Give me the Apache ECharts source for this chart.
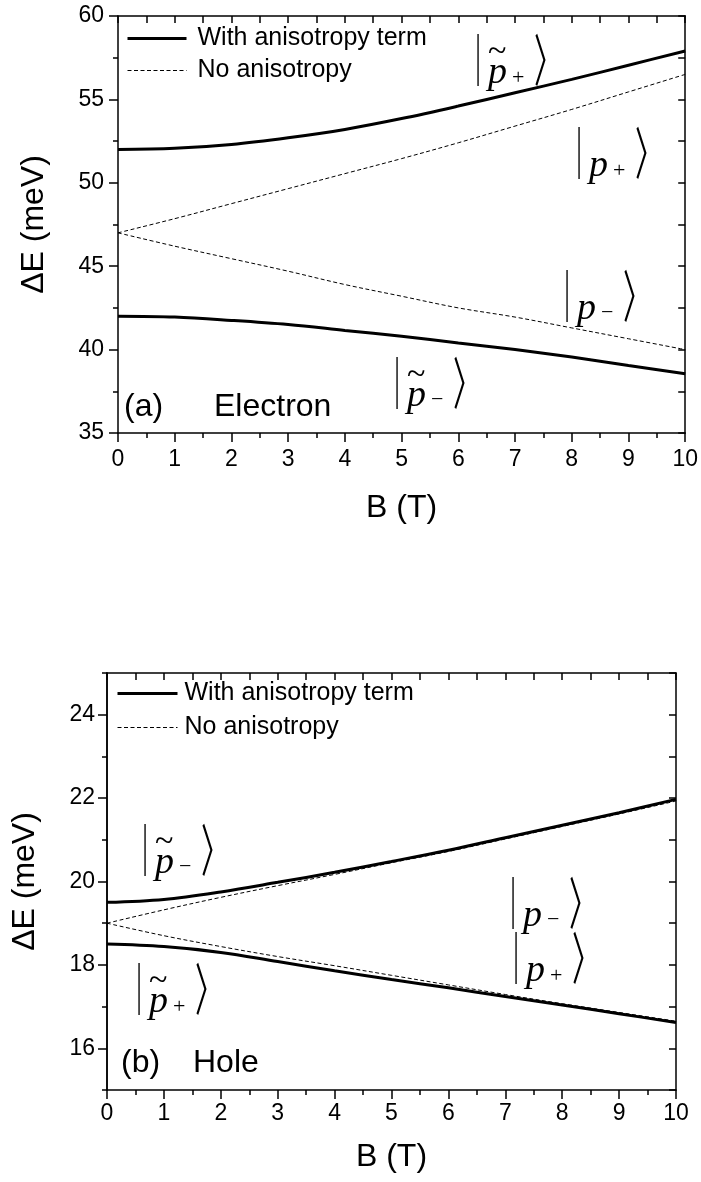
<!DOCTYPE html>
<html><head><meta charset="utf-8">
<script src="https://cdn.jsdelivr.net/npm/echarts@6/dist/echarts.min.js"></script>
<style>html,body{margin:0;padding:0;background:#fff}#c{width:701px;height:1182px}</style>
</head><body><div id="c"></div>
<script>
// ---- data ----
const B = [0, 1, 2, 3, 4, 5, 6, 7, 8, 9, 10];
const elecAnisoUpper   = [52.0, 52.07, 52.3, 52.7, 53.2, 53.85, 54.6, 55.4, 56.2, 57.05, 57.9];
const elecAnisoLower   = [42.0, 41.95, 41.75, 41.5, 41.15, 40.8, 40.4, 40.0, 39.55, 39.05, 38.55];
const elecNoAnisoUpper = [47.0, 47.85, 48.75, 49.65, 50.55, 51.45, 52.4, 53.4, 54.4, 55.45, 56.5];
const elecNoAnisoLower = [47.0, 46.2, 45.45, 44.7, 43.9, 43.2, 42.5, 41.95, 41.3, 40.65, 40.0];
const holeAnisoUpper   = [19.5, 19.57, 19.75, 19.98, 20.22, 20.48, 20.75, 21.05, 21.35, 21.65, 21.97];
const holeAnisoLower   = [18.5, 18.44, 18.3, 18.08, 17.86, 17.65, 17.45, 17.24, 17.04, 16.83, 16.62];
const holeNoAnisoUpper = [19.0, 19.32, 19.62, 19.9, 20.17, 20.45, 20.72, 21.02, 21.32, 21.62, 21.93];
const holeNoAnisoLower = [19.0, 18.7, 18.44, 18.2, 17.98, 17.75, 17.52, 17.29, 17.07, 16.86, 16.65];
const holeYTickLabels  = [16, 18, 20, 22, 24];
const seriesNames = ['With anisotropy term', 'No anisotropy'];
const panelTexts = [['(a)', 'Electron'], ['(b)', 'Hole']];

// ---- helpers ----
const SANS = "'Liberation Sans', Arial, sans-serif";
const SERIF = "'Liberation Serif', 'Times New Roman', serif";
const pts = arr => arr.map((v, i) => [B[i], v]);
const axisLine = {show: true, onZero: false, lineStyle: {color: '#000', width: 1.5}};
const TICK = 23, NAME = 32, LEG = 25;
const SOLID = {color: '#000', width: 3};
const DASHED = {color: '#000', width: 1, type: [4, 2.5]};

function line(name, arr, xi, yi, solid) {
  return {
    type: 'line', name, xAxisIndex: xi, yAxisIndex: yi, data: pts(arr),
    symbol: 'none', smooth: 0.35, silent: true, animation: false,
    lineStyle: solid ? SOLID : DASHED,
    itemStyle: {color: '#000'}
  };
}

function txt(text, x, y, size, opts) {
  opts = opts || {};
  return {
    type: 'text', x, y, silent: true, scaleX: opts.scaleX || 1,
    style: {
      text, fill: '#000', fontSize: size, fontFamily: opts.family || SANS,
      fontStyle: opts.italic ? 'italic' : 'normal',
      textAlign: opts.align || 'left', align: opts.align || 'left',
      textVerticalAlign: 'middle', verticalAlign: 'middle'
    }
  };
}

// ket |p> (bar x, bar vertical centre yc)
function ket(x, yc, tilde, sign) {
  const ch = [
    txt('|', 0, -1, 56, {family: SERIF, align: 'center', scaleX: 0.5}),
    txt('p', 10, 13, 38, {family: SERIF, italic: true}),
    txt(sign, 34, sign === '+' ? 18 : 17, 22, {family: SERIF}),
    txt('\u3009', 70, 0, 56, {family: "'Noto Sans CJK SC', sans-serif", align: 'center', scaleX: 0.5})
  ];
  if (tilde) ch.push(txt('~', 10, -8, 34, {family: SERIF}));
  return {type: 'group', x, y: yc, children: ch};
}

const chart = echarts.init(document.getElementById('c'), null, {renderer: 'canvas'});

const legendData = [
  {name: seriesNames[0], lineStyle: SOLID},
  {name: seriesNames[1], lineStyle: DASHED}
];
const legendBase = {
  data: legendData, orient: 'vertical', padding: 0, itemHeight: 12, selectedMode: false,
  itemStyle: {opacity: 0}
};

const option = {
  backgroundColor: '#fff',
  animation: false,
  grid: [
    {left: 118, top: 16, width: 568, height: 417},
    {left: 107, top: 673, width: 569, height: 417}
  ],
  legend: [
    Object.assign({}, legendBase, {left: 126, top: 26, itemWidth: 59, itemGap: 7,
      textStyle: {fontSize: LEG, fontFamily: SANS, color: '#000', padding: [0, 0, 0, 6]}}),
    Object.assign({}, legendBase, {left: 116, top: 681, itemWidth: 60, itemGap: 9,
      textStyle: {fontSize: LEG, fontFamily: SANS, color: '#000', padding: [0, 0, 0, 2]}})
  ],
  xAxis: [
    {gridIndex: 0, type: 'value', position: 'bottom', min: 0, max: 10, interval: 1,
     axisLine, splitLine: {show: false},
     axisTick: {show: true, inside: false, length: 9, lineStyle: {color: '#000', width: 1.5}},
     minorTick: {show: true, splitNumber: 2, length: 5, lineStyle: {color: '#000', width: 1.5}},
     axisLabel: {fontSize: TICK, fontFamily: SANS, color: '#000', margin: 15},
     name: 'B (T)', nameLocation: 'middle', nameGap: 59,
     nameTextStyle: {fontSize: NAME, fontFamily: SANS, color: '#000'}},
    {gridIndex: 0, type: 'value', position: 'top', min: 0, max: 10, interval: 0.5,
     axisLine, splitLine: {show: false}, axisLabel: {show: false},
     axisTick: {show: true, inside: true, length: 7, lineStyle: {color: '#000', width: 1.5}}},
    {gridIndex: 1, type: 'value', position: 'bottom', min: 0, max: 10, interval: 1,
     axisLine, splitLine: {show: false},
     axisTick: {show: true, inside: false, length: 9, lineStyle: {color: '#000', width: 1.5}},
     minorTick: {show: true, splitNumber: 2, length: 5, lineStyle: {color: '#000', width: 1.5}},
     axisLabel: {fontSize: TICK, fontFamily: SANS, color: '#000', margin: 12},
     name: 'B (T)', nameLocation: 'middle', nameGap: 51,
     nameTextStyle: {fontSize: NAME, fontFamily: SANS, color: '#000'}},
    {gridIndex: 1, type: 'value', position: 'top', min: 0, max: 10, interval: 0.5,
     axisLine, splitLine: {show: false}, axisLabel: {show: false},
     axisTick: {show: true, inside: true, length: 7, lineStyle: {color: '#000', width: 1.5}}}
  ],
  yAxis: [
    {gridIndex: 0, type: 'value', position: 'left', min: 35, max: 60, interval: 5,
     axisLine, splitLine: {show: false},
     axisTick: {show: true, inside: false, length: 9, lineStyle: {color: '#000', width: 1.5}},
     minorTick: {show: true, splitNumber: 2, length: 5, lineStyle: {color: '#000', width: 1.5}},
     axisLabel: {fontSize: TICK, fontFamily: SANS, color: '#000', margin: 14},
     name: '\u0394E (meV)', nameLocation: 'middle', nameGap: 68,
     nameTextStyle: {fontSize: NAME, fontFamily: SANS, color: '#000'}},
    {gridIndex: 0, type: 'value', position: 'right', min: 35, max: 60, interval: 2.5,
     axisLine, splitLine: {show: false}, axisLabel: {show: false},
     axisTick: {show: true, inside: true, length: 7, lineStyle: {color: '#000', width: 1.5}}},
    {gridIndex: 1, type: 'value', position: 'left', min: 15, max: 25, interval: 1,
     axisLine, splitLine: {show: false}, axisLabel: {show: false},
     axisTick: {show: true, inside: false, length: 5, lineStyle: {color: '#000', width: 1.5}}},
    {gridIndex: 1, type: 'value', position: 'left', min: 15, max: 25,
     axisLine, splitLine: {show: false},
     axisTick: {show: true, inside: false, length: 9, customValues: holeYTickLabels, lineStyle: {color: '#000', width: 1.5}},
     axisLabel: {fontSize: TICK, fontFamily: SANS, color: '#000', margin: 12, customValues: holeYTickLabels},
     name: '\u0394E (meV)', nameLocation: 'middle', nameGap: 66,
     nameTextStyle: {fontSize: NAME, fontFamily: SANS, color: '#000'}},
    {gridIndex: 1, type: 'value', position: 'right', min: 15, max: 25, interval: 1,
     axisLine, splitLine: {show: false}, axisLabel: {show: false},
     axisTick: {show: true, inside: true, length: 7, lineStyle: {color: '#000', width: 1.5}}}
  ],
  series: [
    line(seriesNames[0], elecAnisoUpper, 0, 0, true),
    line(seriesNames[0], elecAnisoLower, 0, 0, true),
    line(seriesNames[1], elecNoAnisoUpper, 0, 0, false),
    line(seriesNames[1], elecNoAnisoLower, 0, 0, false),
    line(seriesNames[0], holeAnisoUpper, 2, 2, true),
    line(seriesNames[0], holeAnisoLower, 2, 2, true),
    line(seriesNames[1], holeNoAnisoUpper, 2, 2, false),
    line(seriesNames[1], holeNoAnisoLower, 2, 2, false)
  ],
  graphic: [
    txt(panelTexts[0][0], 124, 407, 32),
    txt(panelTexts[0][1], 214, 407, 32),
    txt(panelTexts[1][0], 121, 1063, 32),
    txt(panelTexts[1][1], 193, 1063, 32),
    ket(478, 60, true, '+'),
    ket(579, 153, false, '+'),
    ket(567, 296, false, '\u2212'),
    ket(397, 383, true, '\u2212'),
    ket(145, 850, true, '\u2212'),
    ket(139, 989, true, '+'),
    ket(513, 903, false, '\u2212'),
    ket(516, 958, false, '+')
  ]
};
chart.setOption(option);
</script>
</body></html>
